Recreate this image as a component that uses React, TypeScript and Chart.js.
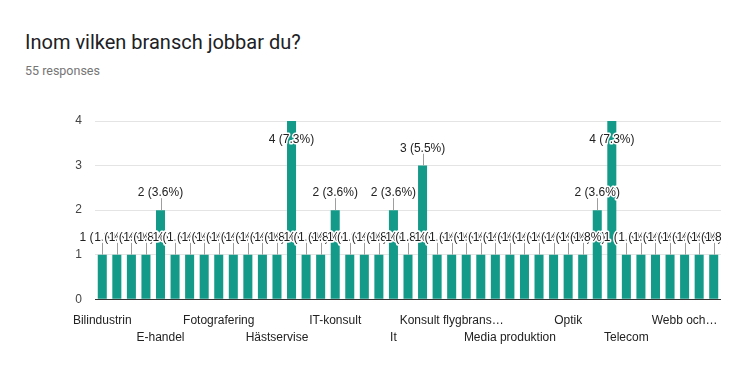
import React, { useEffect, useRef } from "react";
import { Chart, registerables } from "chart.js";

Chart.register(...registerables);

const titleText = "Inom vilken bransch jobbar du?";
const subtitleText = "55 responses";
const totalResponses = 55;

const categories = [
  "Bilindustrin", "Bygg", "Data", "Design", "E-handel", "Ekonomi", "Energi", "Event",
  "Fotografering", "Försäljning", "Grafisk design", "Handel", "Hästservise", "IT",
  "IT & Telekom", "IT-bolag", "IT-konsult", "IT-säkerhet", "IT/Data", "Industri", "It",
  "Juridik", "Konsult", "Konsult IT", "Konsult flygbrans…", "Kultur", "Logistik",
  "Marknadsföring", "Media produktion", "Medicinteknik", "Mjukvara", "Offentlig sektor",
  "Optik", "Programmering", "Reklam", "Systemutveckling", "Telecom", "Telekom",
  "Transport", "Utbildning", "Webb och…", "Webbutveckling", "Välfärd",
];

const counts = [
  1, 1, 1, 1, 2, 1, 1, 1,
  1, 1, 1, 1, 1, 4,
  1, 1, 2, 1, 1, 1, 2,
  1, 3, 1, 1, 1, 1,
  1, 1, 1, 1, 1,
  1, 1, 2, 4, 1, 1,
  1, 1, 1, 1, 1,
];

const yTicks = [0, 1, 2, 3, 4];

const BAR_COLOR = "#149a88";

const labelPlugin = {
  id: "barLabels",
  afterDatasetsDraw(chart: any) {
    const ctx = chart.ctx;
    const meta = chart.getDatasetMeta(0);
    const area = chart.chartArea;
    ctx.save();
    ctx.beginPath();
    ctx.rect(0, 0, area.right, chart.height);
    ctx.clip();
    ctx.font = '12px "Liberation Sans", Arial, sans-serif';
    ctx.textAlign = "center";
    ctx.textBaseline = "middle";
    const items = meta.data.map((el: any, i: number) => {
      const v = counts[i];
      const text = `${v} (${((v / totalResponses) * 100).toFixed(1)}%)`;
      let y = el.y - 17;
      let inside = false;
      if (y - 6 < area.top) {
        y = el.y + 19;
        inside = true;
      }
      return { x: el.x, top: el.y, y, text, inside };
    });
    ctx.strokeStyle = "#9e9e9e";
    ctx.lineWidth = 1;
    items.forEach((it: any) => {
      if (it.inside) return;
      ctx.beginPath();
      ctx.moveTo(Math.round(it.x) + 0.5, it.top - 12);
      ctx.lineTo(Math.round(it.x) + 0.5, it.top);
      ctx.stroke();
    });
    items.forEach((it: any) => {
      ctx.lineWidth = 3;
      ctx.lineJoin = "round";
      ctx.strokeStyle = "#ffffff";
      ctx.strokeText(it.text, it.x, it.y);
      ctx.fillStyle = "#222222";
      ctx.fillText(it.text, it.x, it.y);
    });
    ctx.restore();
  },
};

export default function App() {
  const canvasRef = useRef<HTMLCanvasElement | null>(null);

  useEffect(() => {
    const canvas = canvasRef.current;
    if (!canvas) return;
    const chart = new Chart(canvas, {
      type: "bar",
      data: {
        labels: categories,
        datasets: [
          {
            data: counts,
            backgroundColor: BAR_COLOR,
            borderWidth: 0,
            barPercentage: 0.62,
            categoryPercentage: 1,
          },
        ],
      },
      options: {
        responsive: false,
        animation: false,
        devicePixelRatio: 1,
        layout: { padding: { top: 121, right: 18, bottom: 40.7, left: 0 } },
        plugins: {
          legend: { display: false },
          tooltip: { enabled: false },
          title: { display: false },
        },
        scales: {
          x: {
            offset: true,
            grid: { display: false },
            border: { display: false },
            afterFit: (scale: any) => {
              scale.height = 50;
            },
            ticks: {
              autoSkip: false,
              maxRotation: 0,
              minRotation: 0,
              padding: 5,
              color: "#222222",
              font: { family: '"Liberation Sans", Arial, sans-serif', size: 12, lineHeight: 1.4 },
              callback: (_v: any, i: number) => {
                if (i % 8 === 0) return categories[i];
                if (i % 8 === 4) return ["", categories[i]];
                return "";
              },
            },
          },
          y: {
            min: yTicks[0],
            max: yTicks[yTicks.length - 1],
            border: { display: false },
            afterFit: (scale: any) => {
              scale.width = 95;
            },
            afterBuildTicks: (scale: any) => {
              scale.ticks = yTicks.map((v) => ({ value: v }));
            },
            grid: {
              drawTicks: false,
              color: (c: any) => (c.tick && c.tick.value === 0 ? "#333333" : "#e4e4e4"),
              lineWidth: 1,
            },
            ticks: {
              padding: 13,
              color: "#444444",
              font: { family: '"Liberation Sans", Arial, sans-serif', size: 12 },
            },
          },
        },
      },
      plugins: [labelPlugin],
    });
    return () => chart.destroy();
  }, []);

  return (
    <div style={{ position: "fixed", left: 0, top: 0, width: 739, height: 390, background: "#fff" }}>
      <div
        style={{
          position: "absolute",
          left: 25,
          top: 30,
          fontFamily: "Roboto, Arial, sans-serif",
          fontSize: 20,
          color: "#202124",
          whiteSpace: "nowrap",
          lineHeight: "24px",
        }}
      >
        {titleText}
      </div>
      <div
        style={{
          position: "absolute",
          left: 25,
          top: 63,
          fontFamily: "Roboto, Arial, sans-serif",
          fontSize: 12.5,
          color: "#757575",
          whiteSpace: "nowrap",
          lineHeight: "16px",
        }}
      >
        {subtitleText}
      </div>
      <canvas ref={canvasRef} width={739} height={390} style={{ position: "absolute", left: 0, top: 0 }} />
    </div>
  );
}
